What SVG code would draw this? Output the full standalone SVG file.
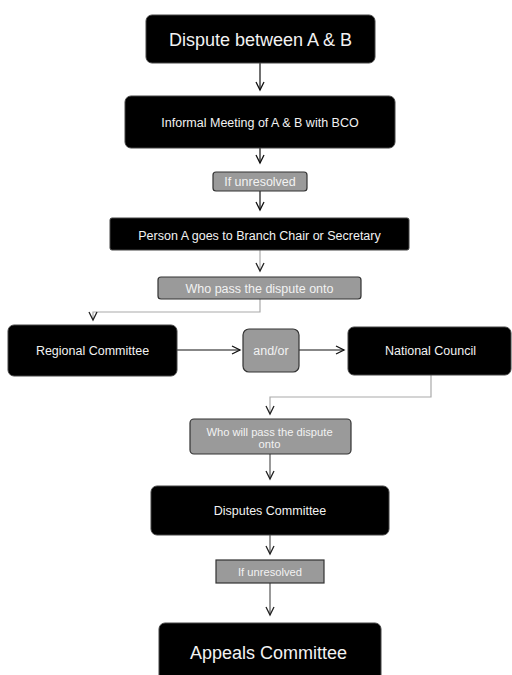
<svg xmlns="http://www.w3.org/2000/svg" width="512" height="675" viewBox="0 0 512 675">
<defs>
<marker id="ah" markerUnits="userSpaceOnUse" markerWidth="12" markerHeight="12" refX="8" refY="4" orient="auto" overflow="visible">
<path d="M0,0 L8,4 L0,8" fill="none" stroke="#111" stroke-width="1.3"/>
</marker>
<marker id="ahg" markerUnits="userSpaceOnUse" markerWidth="12" markerHeight="12" refX="8" refY="4" orient="auto" overflow="visible">
<path d="M0,0 L8,4 L0,8" fill="none" stroke="#222" stroke-width="1.3"/>
</marker>
<style>
.blk{fill:#000;stroke:#444;stroke-width:1}
.gry{fill:#9a9a9a;stroke:#333;stroke-width:1.2}
text{font-family:"Liberation Sans",Arial,sans-serif;text-anchor:middle;fill:#f2f2f2}
.s{font-size:12.5px}
.l{font-size:18px}
.c{fill:none;stroke:#111;stroke-width:1.2}
.cg{fill:none;stroke:#aaa;stroke-width:1.2}
.cd{fill:none;stroke:#555;stroke-width:1.2}
</style>
</defs>
<rect width="512" height="675" fill="#fff"/>
<g id="connectors">
<path class="c" d="M260,63 V90" marker-end="url(#ah)"/>
<path class="c" d="M260,148 V163" marker-end="url(#ah)"/>
<path class="c" d="M260,191 V210" marker-end="url(#ah)"/>
<path class="cg" d="M260,250 V271" marker-end="url(#ahg)"/>
<path class="cg" d="M260,299 V312 H93 V320" marker-end="url(#ahg)"/>
<path class="c" d="M177,350 H240" marker-end="url(#ah)"/>
<path class="c" d="M299,350 H344" marker-end="url(#ah)"/>
<path class="cg" d="M431,375 V397 H270 V414" marker-end="url(#ahg)"/>
<path class="cd" d="M270,454 V479" marker-end="url(#ahg)"/>
<path class="cd" d="M270,535 V554" marker-end="url(#ahg)"/>
<path class="cd" d="M270,583 V615" marker-end="url(#ahg)"/>
</g>
<g id="n-dispute"><rect class="blk" x="146" y="15" width="229" height="48" rx="6"/><text class="l" x="260.5" y="45.5">Dispute between A &amp; B</text></g>
<g id="n-informal"><rect class="blk" x="125" y="96" width="270" height="52" rx="6"/><text class="s" x="260" y="127">Informal Meeting of A &amp; B with BCO</text></g>
<g id="n-unresolved1"><rect class="gry" x="213" y="172" width="94" height="19" rx="3"/><text class="s" x="260" y="186">If unresolved</text></g>
<g id="n-persona"><rect class="blk" x="110" y="218" width="299" height="32" rx="2"/><text class="s" x="259.5" y="239.5">Person A goes to Branch Chair or Secretary</text></g>
<g id="n-whopass"><rect class="gry" x="158" y="277" width="203" height="22" rx="3"/><text class="s" x="259.5" y="292.5">Who pass the dispute onto</text></g>
<g id="n-regional"><rect class="blk" x="8" y="325" width="169" height="51" rx="6"/><text class="s" x="92.5" y="355">Regional Committee</text></g>
<g id="n-andor"><rect class="gry" x="243" y="329" width="56" height="43" rx="6"/><text class="s" x="271" y="355">and/or</text></g>
<g id="n-national"><rect class="blk" x="348" y="327" width="163" height="48" rx="6"/><text class="s" x="430.5" y="355">National Council</text></g>
<g id="n-whowill"><rect class="gry" x="190" y="419" width="161" height="35" rx="4"/><text font-size="11.2" x="269.5" y="436">Who will pass the dispute</text><text font-size="11.2" x="269.5" y="448">onto</text></g>
<g id="n-disputes"><rect class="blk" x="151" y="486" width="238" height="49" rx="6"/><text class="s" x="270" y="515">Disputes Committee</text></g>
<g id="n-unresolved2"><rect class="gry" x="216" y="560" width="108" height="23"/><text font-size="11.2" x="270" y="576">If unresolved</text></g>
<g id="n-appeals"><rect class="blk" x="159" y="623" width="222" height="62" rx="6"/><text class="l" x="268.5" y="659">Appeals Committee</text></g>
</svg>
